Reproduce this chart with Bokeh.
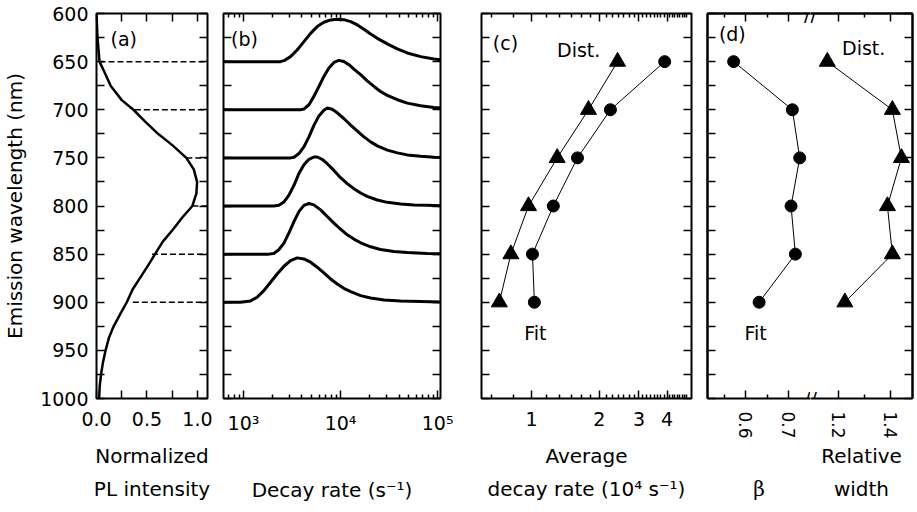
from bokeh.plotting import figure
from bokeh.models import (Range1d, LinearAxis, FixedTicker, Label, NumeralTickFormatter)
from bokeh.layouts import row
from bokeh.embed import file_html
from bokeh.resources import INLINE

# ---------------- data ----------------
wavelengths = [650, 700, 750, 800, 850, 900]

# (a) normalized PL spectrum
pl_wavelength = [600, 625, 650, 660, 675, 690, 700, 712, 725, 737, 750, 762, 775, 787, 800, 812,
                 825, 837, 850, 862, 875, 887, 900, 912, 925, 937, 950, 962, 975, 987, 1000]
pl_intensity = [0.0, 0.01, 0.03, 0.075, 0.14, 0.25, 0.366, 0.48, 0.61, 0.754, 0.89, 0.964, 0.997,
                0.99, 0.95, 0.85, 0.754, 0.657, 0.58, 0.51, 0.43, 0.356, 0.30, 0.236, 0.17, 0.123,
                0.09, 0.065, 0.045, 0.032, 0.026]
dash_start = [0.03, 0.38, 0.89, 0.95, 0.55, 0.36]

# (b) decay-rate distributions (rate in s^-1, height in nm above each baseline)
rate_650 = [600, 2400, 2610, 3050, 3570, 4190, 4910, 5740, 6730, 7890, 9240, 10800, 12700, 14900,
            17400, 20400, 23900, 30300, 38400, 48700, 66800, 91700, 112000]
h_650 = [0, 0, 1.0, 5.2, 12.1, 20.8, 29.4, 36.4, 40.9, 43.3, 44.0, 43.6, 41.6, 38.1, 33.6, 28.7,
         24.2, 18.4, 13.2, 9.0, 5.2, 2.8, 1.7]
rate_700 = [600, 3870, 4190, 4720, 5310, 5980, 6730, 7580, 8540, 9610, 10800, 12200, 13700, 16100,
            18800, 22100, 25800, 30300, 38400, 48700, 66800, 91700, 112000]
h_700 = [0, 0, 0.7, 5.2, 13.9, 24.2, 34.6, 43.3, 49.2, 51.3, 50.2, 46.8, 42.3, 36.4, 30.1, 24.2,
         19.0, 14.9, 10.4, 6.9, 4.2, 2.4, 1.7]
rate_750 = [600, 3050, 3310, 3720, 4190, 4720, 5310, 5980, 6730, 7290, 8200, 9240, 10800, 12700,
            14900, 17400, 20400, 23900, 30300, 38400, 48700, 66800, 91700, 112000]
h_750 = [0, 0, 0.7, 4.5, 11.4, 21.8, 33.8, 43.6, 49.5, 51.9, 50.5, 46.8, 40.9, 34.0, 27.7, 21.8,
         16.6, 12.5, 8.0, 5.2, 3.1, 1.7, 0.7, 0.35]
rate_800 = [600, 2050, 2310, 2610, 2930, 3310, 3720, 4190, 4720, 5310, 5740, 6470, 7290, 8540,
            10000, 11700, 13700, 16100, 18800, 23900, 30300, 41600, 57000, 78200, 112000]
h_800 = [0, 0, 0.7, 4.2, 11.1, 21.5, 33.8, 42.8, 48.5, 50.9, 50.9, 48.5, 43.9, 37.0, 29.4, 23.2,
         18.0, 13.5, 10.0, 6.2, 3.8, 2.1, 1.0, 0.7, 0.35]
rate_850 = [600, 1820, 2050, 2310, 2610, 2930, 3310, 3720, 4190, 4720, 5310, 6220, 7290, 8540,
            10000, 11700, 13700, 16100, 20400, 25800, 35500, 48700, 78200, 112000]
h_850 = [0, 0, 0.7, 4.5, 11.4, 21.8, 33.8, 44.2, 50.6, 52.6, 51.2, 46.0, 39.1, 32.2, 26.0, 20.1,
         15.6, 11.8, 7.6, 4.8, 2.8, 1.7, 0.7, 0.35]
rate_900 = [600, 930, 1180, 1380, 1620, 1900, 2220, 2610, 3050, 3570, 4190, 4910, 5740, 6730,
            7890, 9240, 10800, 12700, 16100, 20400, 28000, 41600, 66800, 112000]
h_900 = [0, 0, 1.4, 5.2, 12.1, 20.8, 29.4, 37.4, 43.3, 46.1, 45.0, 41.6, 36.4, 30.5, 24.2, 19.0,
         14.5, 11.1, 6.9, 4.5, 2.4, 1.4, 0.7, 0.35]
distributions = [(650, rate_650, h_650), (700, rate_700, h_700), (750, rate_750, h_750),
                 (800, rate_800, h_800), (850, rate_850, h_850), (900, rate_900, h_900)]

# (c) average decay rate (10^4 s^-1)
avg_rate_dist = [2.41, 1.79, 1.30, 0.97, 0.81, 0.72]
avg_rate_fit = [3.90, 2.24, 1.60, 1.25, 1.01, 1.03]

# (d) beta and relative width
beta = [0.572, 0.708, 0.725, 0.705, 0.715, 0.631]
rel_width = [1.155, 1.407, 1.442, 1.388, 1.407, 1.223]

# tick positions / labels
y_ticks = list(range(600, 1001, 50))
y_minor = list(range(625, 1000, 50))
a_ticks = [0.0, 0.5, 1.0]
a_minor = [0.25, 0.75]
b_major = [1000, 10000, 100000]
b_labels = {1000: "10³", 10000: "10⁴", 100000: "10⁵"}
c_major = [1, 2, 3, 4]
d_beta_major = [0.6, 0.7]
d_beta_minor = [0.55, 0.65]
d_width_major = [1.2, 1.4]
d_width_minor = [1.3]

# ---------------- style ----------------
H = 512
MB = 114
MT = 13
FONT = "DejaVu Sans"
TICK_FS = "19px"
LABEL_FS = "20px"
TEXT_FS = "19px"
TS = 13          # tick label standoff
LS = 15          # standoff of two-line axis labels
LSD = LS - 13    # same for panel (d), whose tick labels are rotated
LINE_H = 1.4
LINE_PX = 33


def base_fig(width, xr, x_type, bl, br, y_loc="left", outline=True):
    p = figure(width=width, height=H, x_range=xr, y_range=Range1d(1000, 600),
               x_axis_type=x_type, y_axis_location=y_loc, output_backend="svg",
               toolbar_location=None, min_border_left=bl, min_border_right=br,
               min_border_top=MT, min_border_bottom=MB)
    p.grid.visible = False
    p.background_fill_color = "white"
    p.border_fill_color = "white"
    if outline:
        p.outline_line_color = "black"
        p.outline_line_width = 2
    else:
        p.outline_line_color = None
    return p


def tick_style(ax, major_in=8, minor_in=8, line=False):
    ax.axis_line_color = "black" if line else None
    ax.axis_line_width = 2
    ax.major_tick_in = major_in
    ax.major_tick_out = 0
    ax.minor_tick_in = minor_in
    ax.minor_tick_out = 0
    ax.major_tick_line_color = "black"
    ax.minor_tick_line_color = "black"
    ax.major_tick_line_width = 1.5
    ax.minor_tick_line_width = 1.5
    ax.major_label_text_font = FONT
    ax.major_label_text_font_size = TICK_FS
    ax.major_label_text_color = "black"
    ax.major_label_standoff = TS


def labelled(ax, major, minor, major_in=8, minor_in=8, line=False, fmt=None):
    ax.ticker = FixedTicker(ticks=major, minor_ticks=minor)
    tick_style(ax, major_in, minor_in, line)
    if fmt is not None:
        ax.formatter = NumeralTickFormatter(format=fmt)


def bare_axes(p, loc, major, minor, major_in=8, minor_in=8, line=False):
    # mirror axes without labels: every tick is drawn as a "minor" tick
    for ticks, length in ((major, major_in), (minor, minor_in)):
        ax = LinearAxis(ticker=FixedTicker(ticks=[], minor_ticks=ticks))
        tick_style(ax, length, length, line)
        ax.major_label_standoff = 0
        p.add_layout(ax, loc)


def axis_label(ax, text, standoff, font=FONT):
    ax.axis_label = text
    ax.axis_label_text_font = font
    ax.axis_label_text_font_size = LABEL_FS
    ax.axis_label_text_font_style = "normal"
    ax.axis_label_text_color = "black"
    ax.axis_label_text_line_height = LINE_H
    ax.axis_label_standoff = standoff


def add_text(p, x, y, t, fs=TEXT_FS, align="center"):
    p.add_layout(Label(x=x, y=y, text=t, text_font=FONT, text_font_size=fs,
                       text_align=align, text_baseline="middle", text_color="black"))


def hide_default_y(p):
    p.yaxis[0].visible = False


# ---------------- (a) ----------------
pa = base_fig(215, Range1d(0, 1.1), "linear", 95, 8)
labelled(pa.yaxis[0], y_ticks, y_minor)
pa.yaxis[0].major_label_standoff = 8
axis_label(pa.yaxis[0], "Emission wavelength (nm)", 10)
labelled(pa.xaxis[0], a_ticks, a_minor, fmt="0.0")
axis_label(pa.xaxis[0], "Normalized\nPL intensity", LS)
bare_axes(pa, "above", a_ticks, a_minor)
bare_axes(pa, "right", y_ticks, y_minor)
pa.segment(x0=dash_start, y0=wavelengths, x1=[1.1] * len(wavelengths), y1=wavelengths,
           line_color="black", line_width=1.5, line_dash="6 3")
pa.line(pl_intensity, pl_wavelength, line_color="black", line_width=2.5, line_join="round")
add_text(pa, 0.27, 626, "(a)")

# ---------------- (b) ----------------
b_minor = [m * 10 ** e for e in (2, 3, 4) for m in range(2, 10)]
pb = base_fig(245, Range1d(622, 107000), "log", 8, 20)
hide_default_y(pb)
bare_axes(pb, "left", y_ticks, y_minor)
bare_axes(pb, "right", y_ticks, y_minor)
labelled(pb.xaxis[0], b_major, b_minor, 8, 4, fmt="0")
pb.xaxis[0].major_label_overrides = b_labels
axis_label(pb.xaxis[0], "Decay rate (s⁻¹)", LS + LINE_PX - 7)
bare_axes(pb, "above", b_major, b_minor, 8, 4)
for base, rates, heights in distributions:
    pb.line(rates, [base - h for h in heights], line_color="black", line_width=3,
            line_join="round")
add_text(pb, 1024, 626, "(b)")

# ---------------- (c) ----------------
c_minor = ([0.5 + k / 6 for k in range(1, 3)] + [1 + k / 6 for k in range(1, 6)] +
           [2 + k / 7 for k in range(1, 7)] + [3 + k / 8 for k in range(1, 8)] +
           [4 + k / 9 for k in range(1, 9)])
pc = base_fig(239, Range1d(0.60, 5.13), "log", 21, 8)
hide_default_y(pc)
bare_axes(pc, "left", y_ticks, y_minor)
bare_axes(pc, "right", y_ticks, y_minor)
labelled(pc.xaxis[0], c_major, c_minor, 8, 4, fmt="0")
axis_label(pc.xaxis[0], "Average\ndecay rate (10⁴ s⁻¹)", LS)
bare_axes(pc, "above", c_major, c_minor, 8, 4)
pc.line(avg_rate_dist, wavelengths, line_color="black", line_width=1)
pc.line(avg_rate_fit, wavelengths, line_color="black", line_width=1)
pc.scatter(avg_rate_dist, wavelengths, marker="triangle", size=16, color="black")
pc.scatter(avg_rate_fit, wavelengths, marker="circle", size=12, color="black")
add_text(pc, 0.766, 631, "(c)")
add_text(pc, 1.62, 638, "Dist.")
add_text(pc, 1.04, 932, "Fit")

# ---------------- (d) left: beta ----------------
pd1 = base_fig(111, Range1d(0.5115, 0.75), "linear", 8, 0, outline=False)
hide_default_y(pd1)
bare_axes(pd1, "left", y_ticks, y_minor, line=True)
labelled(pd1.xaxis[0], d_beta_major, d_beta_minor, 8, 4, line=True, fmt="0.0")
pd1.xaxis[0].major_label_orientation = "vertical"
pd1.xaxis[0].major_label_text_font_size = "17px"
axis_label(pd1.xaxis[0], "β", LSD + LINE_PX, font="DejaVu Serif")
bare_axes(pd1, "above", d_beta_major, d_beta_minor, 8, 4, line=True)
pd1.line(beta, wavelengths, line_color="black", line_width=1)
pd1.scatter(beta, wavelengths, marker="circle", size=12, color="black")
add_text(pd1, 0.569, 621, "(d)")
add_text(pd1, 0.623, 932, "Fit")
for yb in (600, 1000):
    pd1.add_layout(Label(x=0.75, y=yb, text="/", text_font=FONT, text_font_size="19px",
                         text_align="right", text_baseline="middle", text_color="black"))

# ---------------- (d) right: relative width ----------------
pd2 = base_fig(106, Range1d(1.09, 1.485), "linear", 0, 4, y_loc="right", outline=False)
hide_default_y(pd2)
bare_axes(pd2, "right", y_ticks, y_minor, line=True)
labelled(pd2.xaxis[0], d_width_major, d_width_minor, 8, 4, line=True, fmt="0.0")
pd2.xaxis[0].major_label_orientation = "vertical"
pd2.xaxis[0].major_label_text_font_size = "17px"
axis_label(pd2.xaxis[0], "Relative\nwidth", LSD)
bare_axes(pd2, "above", d_width_major, d_width_minor, 8, 4, line=True)
pd2.line(rel_width, wavelengths, line_color="black", line_width=1)
pd2.scatter(rel_width, wavelengths, marker="triangle", size=16, color="black")
add_text(pd2, 1.296, 636, "Dist.")
for yb in (600, 1000):
    pd2.add_layout(Label(x=1.09, y=yb, text="/", text_font=FONT, text_font_size="19px",
                         text_align="left", text_baseline="middle", text_color="black"))

layout = row(pa, pb, pc, pd1, pd2)
open("out.html", "w").write(file_html(layout, INLINE))
